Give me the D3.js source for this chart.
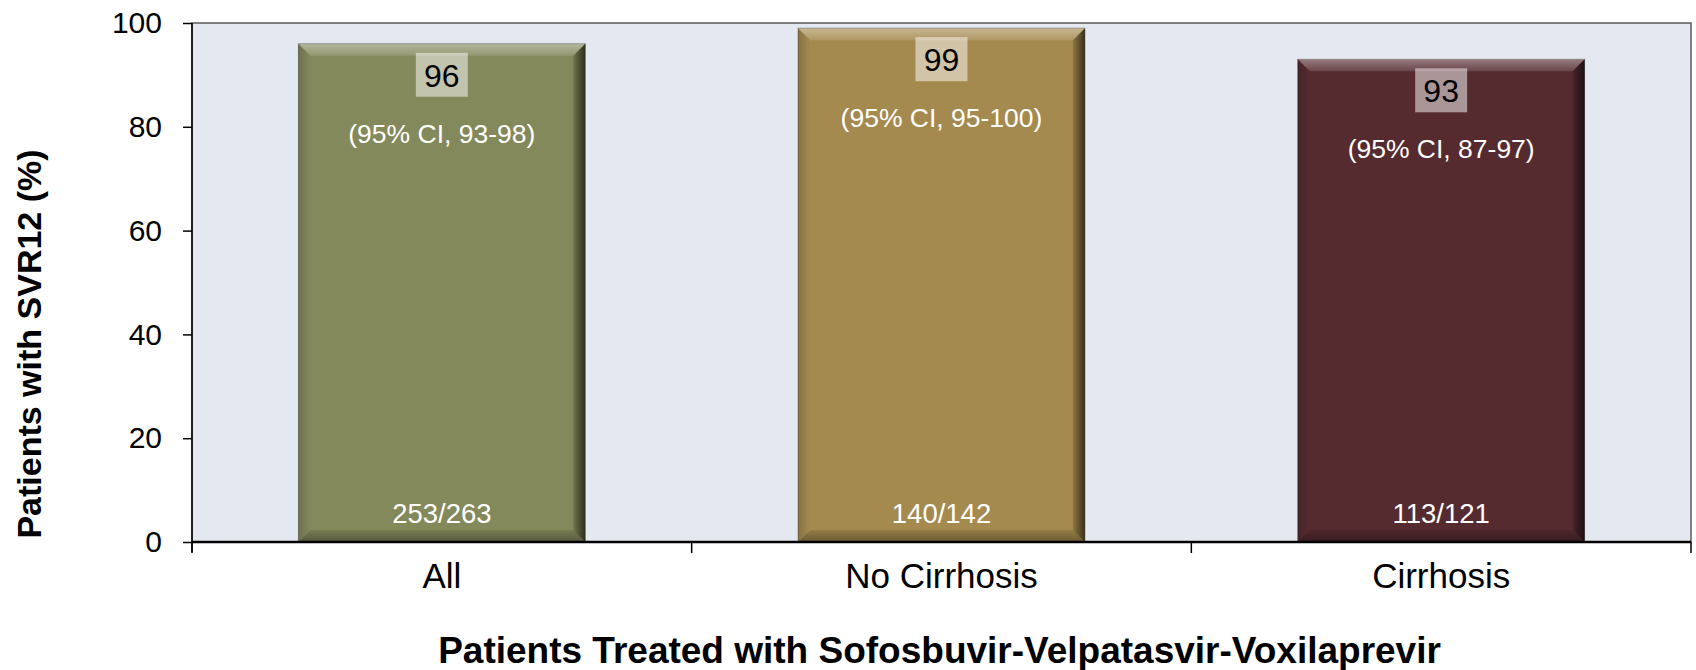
<!DOCTYPE html>
<html>
<head>
<meta charset="utf-8">
<script src="https://cdn.jsdelivr.net/npm/d3@7"></script>
<style>
  body { margin: 0; background: #fff; }
  text { font-family: "Liberation Sans", Arial, sans-serif; }
</style>
</head>
<body>
<div id="chart"></div>
<script>
var svgWidth = 1696;
var svgHeight = 670;

var margin = { top: 23, right: 5, bottom: 128, left: 192 };
var width = svgWidth - margin.left - margin.right;
var height = svgHeight - margin.top - margin.bottom;

// data
var categories = ["All", "No Cirrhosis", "Cirrhosis"];
var svrValues = [96, 99, 93];
var ciLabels = ["(95% CI, 93-98)", "(95% CI, 95-100)", "(95% CI, 87-97)"];
var countLabels = ["253/263", "140/142", "113/121"];
var barColors = ["#84895c", "#a58a4f", "#552b30"];
var yTicks = [0, 20, 40, 60, 80, 100];

var svg = d3.select("#chart").append("svg")
    .attr("width", svgWidth)
    .attr("height", svgHeight);

// gradients for the bevelled bar edges
var defs = svg.append("defs");
function grad(id, x2, y2, color, o1, o2) {
    var g = defs.append("linearGradient").attr("id", id)
        .attr("x1", 0).attr("y1", 0).attr("x2", x2).attr("y2", y2);
    g.append("stop").attr("offset", "0%").attr("stop-color", color).attr("stop-opacity", o1);
    g.append("stop").attr("offset", "100%").attr("stop-color", color).attr("stop-opacity", o2);
}
grad("bevTop", 0, 1, "#ffffff", 0.38, 0.12);
grad("bevRight", 1, 0, "#000000", 0.15, 0.65);
grad("bevBottom", 0, 1, "#000000", 0.1, 0.35);
grad("bevLeft", 1, 0, "#000000", 0.18, 0.0);

var chartGroup = svg.append("g")
    .attr("transform", `translate(${margin.left}, ${margin.top})`);

var xScale = d3.scaleBand()
    .domain(categories)
    .range([0, width])
    .paddingInner(0.426)
    .paddingOuter(0.213);

var yScale = d3.scaleLinear()
    .domain([0, 100])
    .range([height, 0]);

// plot background with frame
chartGroup.append("rect")
    .attr("x", 0).attr("y", 0)
    .attr("width", width).attr("height", height)
    .attr("fill", "#e4e8f1")
    .attr("stroke", "#5a5a5a")
    .attr("stroke-width", 1.5);

var data = categories.map(function (c, i) {
    return { cat: c, value: svrValues[i], ci: ciLabels[i], n: countLabels[i], color: barColors[i] };
});

// bars
var bars = chartGroup.selectAll("g.bar")
    .data(data)
    .enter()
    .append("g")
    .attr("class", "bar");

bars.append("rect")
    .attr("x", d => xScale(d.cat))
    .attr("y", d => yScale(d.value))
    .attr("width", xScale.bandwidth())
    .attr("height", d => height - yScale(d.value))
    .attr("fill", d => d.color)
    .attr("stroke", "#303028")
    .attr("stroke-opacity", 0.45)
    .attr("stroke-width", 1);

// bevel edges
var b = 12;
function bevel(d, side) {
    var x0 = xScale(d.cat), x1 = x0 + xScale.bandwidth();
    var y0 = yScale(d.value), y1 = yScale(0);
    if (side === "top") return [[x0, y0], [x1, y0], [x1 - b, y0 + b], [x0 + b, y0 + b]];
    if (side === "right") return [[x1, y0], [x1, y1], [x1 - b, y1 - b], [x1 - b, y0 + b]];
    if (side === "bottom") return [[x0, y1], [x1, y1], [x1 - b, y1 - b], [x0 + b, y1 - b]];
    return [[x0, y0], [x0 + b, y0 + b], [x0 + b, y1 - b], [x0, y1]];
}
var bevelFill = { top: "url(#bevTop)", right: "url(#bevRight)", bottom: "url(#bevBottom)", left: "url(#bevLeft)" };
["left", "bottom", "right", "top"].forEach(function (side) {
    bars.append("polygon")
        .attr("points", d => bevel(d, side).map(p => p.join(",")).join(" "))
        .attr("fill", bevelFill[side]);
});

// value boxes
var boxW = 52, boxH = 44;
bars.append("rect")
    .attr("x", d => xScale(d.cat) + xScale.bandwidth() / 2 - boxW / 2)
    .attr("y", d => yScale(d.value) + 9)
    .attr("width", boxW)
    .attr("height", boxH)
    .attr("fill", "#ffffff")
    .attr("fill-opacity", 0.5);

bars.append("text")
    .attr("x", d => xScale(d.cat) + xScale.bandwidth() / 2)
    .attr("y", d => yScale(d.value) + 43)
    .attr("text-anchor", "middle")
    .attr("font-size", 32)
    .attr("fill", "#000")
    .text(d => d.value);

bars.append("text")
    .attr("x", d => xScale(d.cat) + xScale.bandwidth() / 2)
    .attr("y", d => yScale(d.value) + 99)
    .attr("text-anchor", "middle")
    .attr("font-size", 26.5)
    .attr("fill", "#fff")
    .text(d => d.ci);

bars.append("text")
    .attr("x", d => xScale(d.cat) + xScale.bandwidth() / 2)
    .attr("y", height - 19)
    .attr("text-anchor", "middle")
    .attr("font-size", 27.5)
    .attr("fill", "#fff")
    .text(d => d.n);

// y axis
var leftAxis = d3.axisLeft(yScale).tickValues(yTicks).tickSize(9).tickPadding(21);
var yAxis = chartGroup.append("g").call(leftAxis);
yAxis.select(".domain").attr("stroke", "#000").attr("stroke-width", 1.5)
    .attr("d", `M0,0V${height + 10}`);
yAxis.selectAll(".tick line").attr("stroke", "#000").attr("stroke-width", 1.5);
yAxis.selectAll(".tick text")
    .attr("font-size", 30)
    .attr("font-family", "Liberation Sans, Arial, sans-serif")
    .attr("fill", "#000");

// x axis
var xAxis = chartGroup.append("g")
    .attr("transform", `translate(0, ${height})`);
xAxis.append("line")
    .attr("x1", 0).attr("x2", width)
    .attr("stroke", "#000").attr("stroke-width", 2.5);
var bounds = [0].concat(categories.map(c => xScale(c) + xScale.bandwidth() + xScale.step() * xScale.paddingInner() / 2));
bounds[bounds.length - 1] = width;
xAxis.selectAll("line.sep")
    .data(bounds)
    .enter()
    .append("line")
    .attr("class", "sep")
    .attr("x1", d => d).attr("x2", d => d)
    .attr("y1", 0).attr("y2", 11)
    .attr("stroke", "#000").attr("stroke-width", 1.5);
xAxis.selectAll("text.cat")
    .data(categories)
    .enter()
    .append("text")
    .attr("class", "cat")
    .attr("x", d => xScale(d) + xScale.bandwidth() / 2)
    .attr("y", 46)
    .attr("text-anchor", "middle")
    .attr("font-size", 35)
    .attr("fill", "#000")
    .text(d => d);

// axis titles
svg.append("text")
    .attr("transform", `translate(41, 344) rotate(-90)`)
    .attr("text-anchor", "middle")
    .attr("font-size", 34)
    .attr("font-weight", "bold")
    .text("Patients with SVR12 (%)");

svg.append("text")
    .attr("x", margin.left + width / 2 - 2)
    .attr("y", 663)
    .attr("text-anchor", "middle")
    .attr("font-size", 37)
    .attr("font-weight", "bold")
    .text("Patients Treated with Sofosbuvir-Velpatasvir-Voxilaprevir");
</script>
</body>
</html>
